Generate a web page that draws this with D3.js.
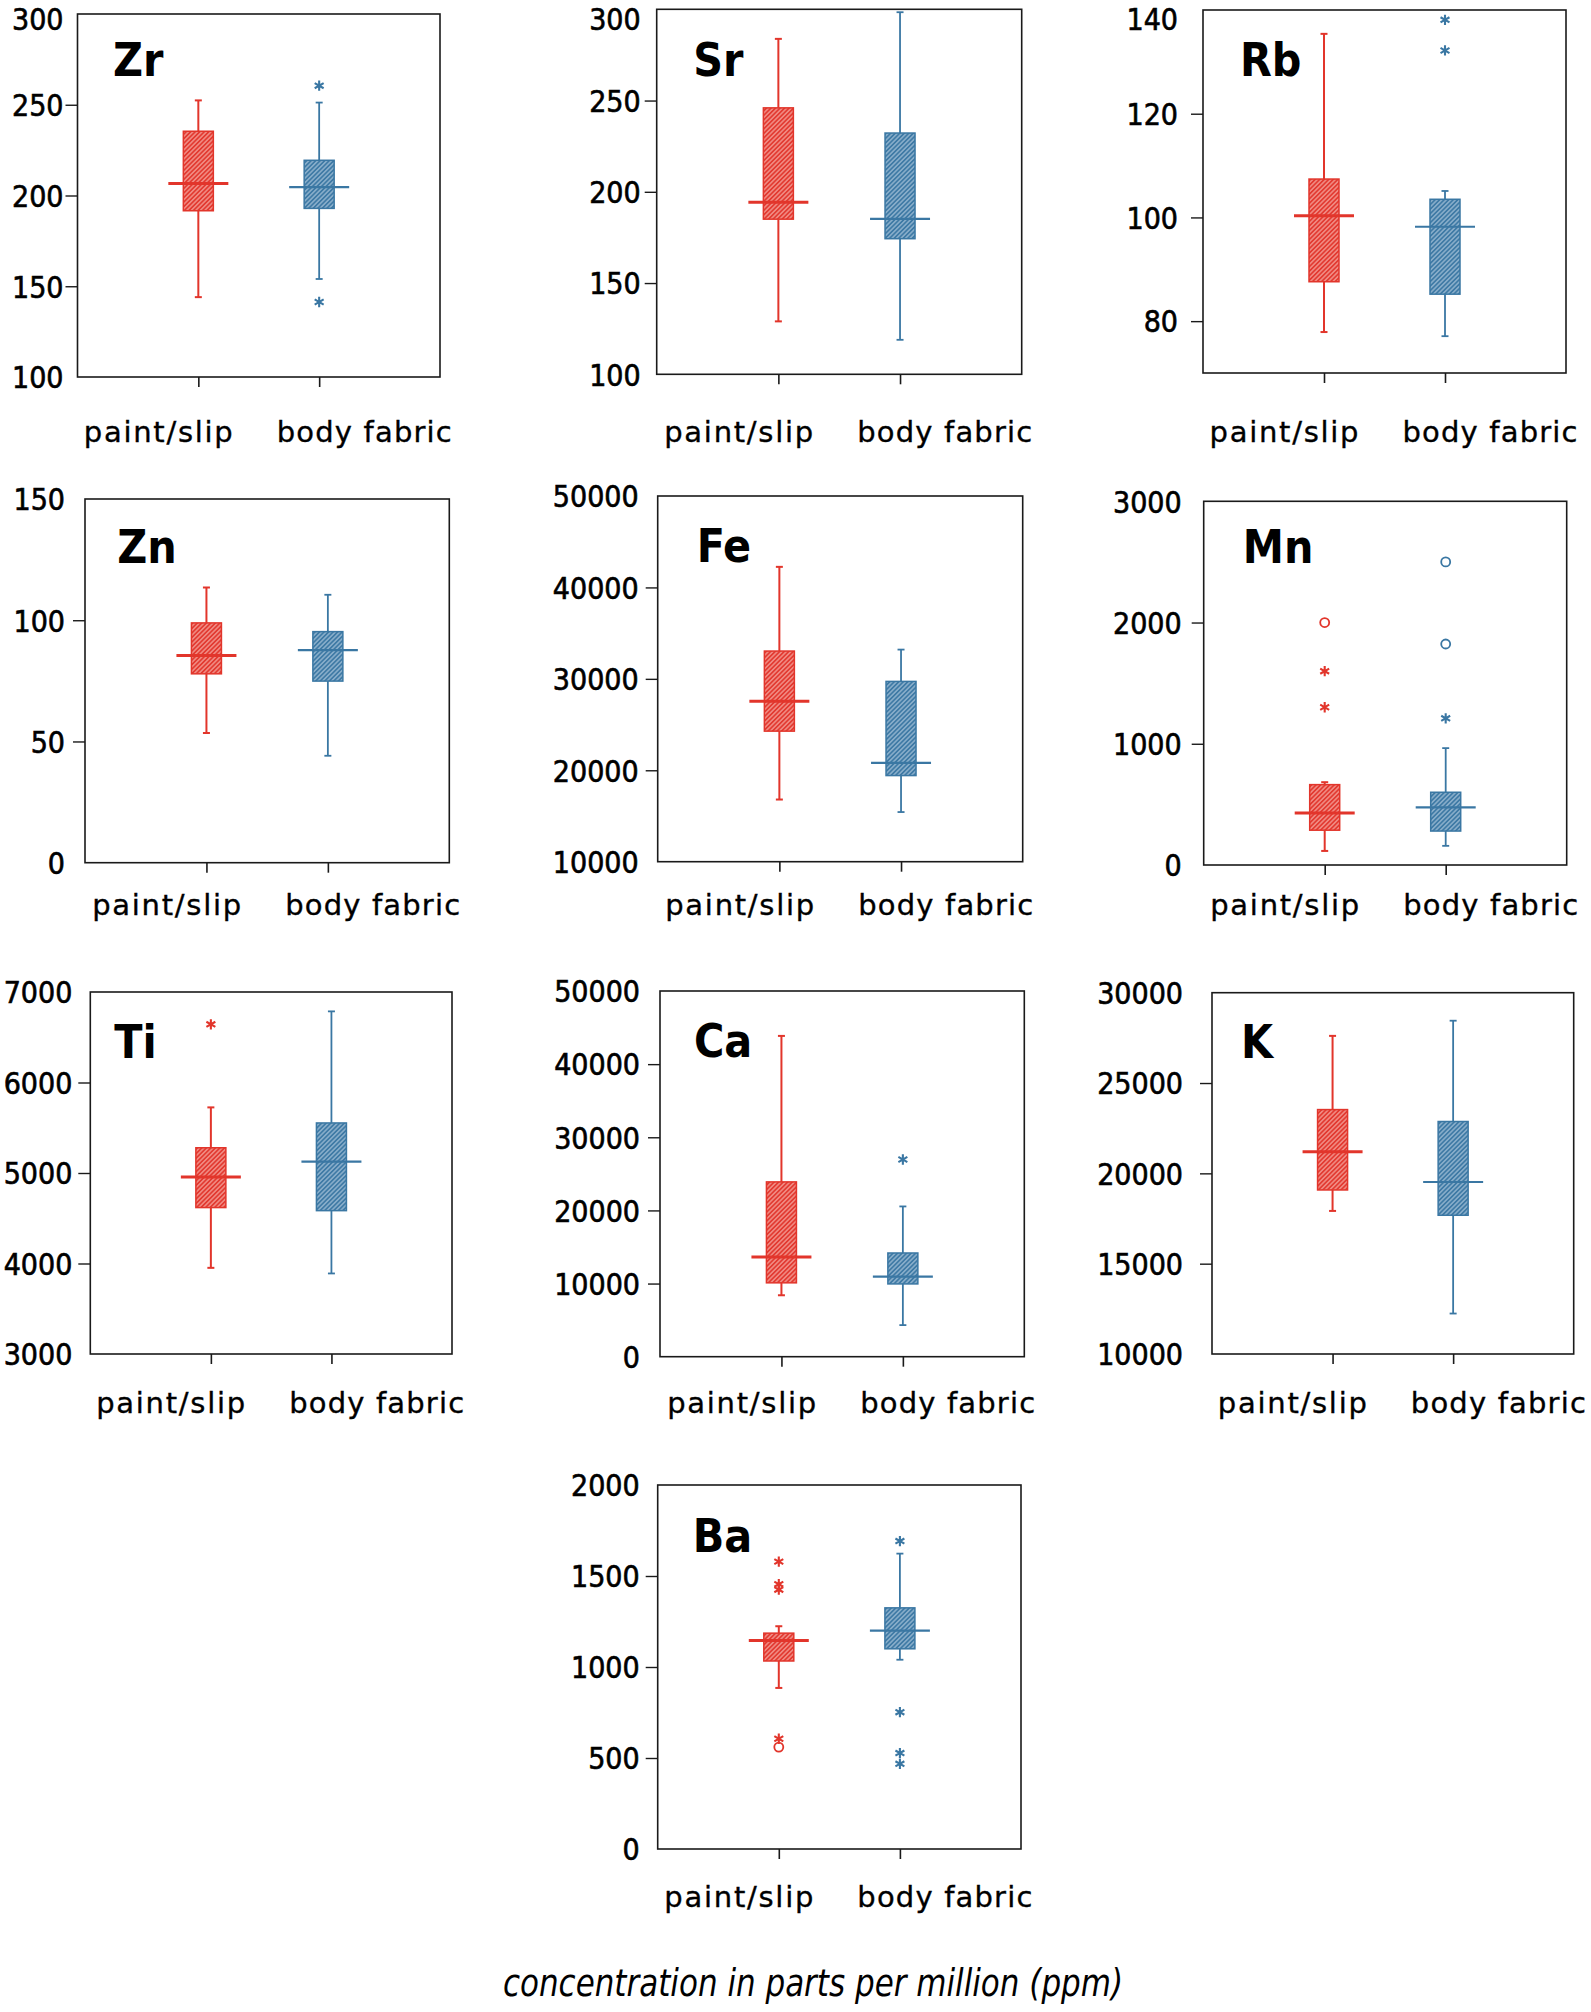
<!DOCTYPE html>
<html><head><meta charset="utf-8">
<script src="https://cdn.jsdelivr.net/npm/d3@7"></script>
<style>body{margin:0;background:#fff;} svg{display:block;}</style>
</head><body>
<svg id="chart" width="1591" height="2012"></svg>
<script>
// ---------------- data ----------------
const elements = ["Zr", "Sr", "Rb", "Zn", "Fe", "Mn", "Ti", "Ca", "K", "Ba"];
const categories = ["paint/slip", "body fabric"];

// [lower whisker, Q1, median, Q3, upper whisker]
const paintStats = [
  [144, 191.6, 206.6, 235.4, 252.4],
  [129, 185, 194.3, 246, 283.8],
  [77.9, 87.6, 100.3, 107.4, 135.4],
  [53.5, 77.9, 85.5, 98.9, 113.5],
  [16800, 24280, 27540, 33040, 42250],
  [116, 287, 428, 663, 683],
  [3952, 4618, 4956, 5279, 5725],
  [8400, 10100, 13640, 23900, 43860],
  [17920, 19080, 21190, 23530, 27610],
  [885, 1033, 1146, 1186, 1224]
];
const bodyStats = [
  [154, 192.9, 204.6, 219.4, 251.2],
  [118.9, 174.3, 185.2, 232.2, 298.4],
  [77.1, 85.2, 98.2, 103.5, 105.1],
  [44.1, 74.9, 87.7, 95.3, 110.5],
  [15430, 19420, 20800, 29720, 33200],
  [158, 280, 476, 600, 964],
  [3890, 4584, 5125, 5553, 6786],
  [4320, 9950, 10960, 14180, 20545],
  [12240, 17680, 19520, 22870, 28450],
  [1040, 1100, 1200, 1325, 1623]
];
// extreme values (*) and outliers (o)
const paintStars = [[], [], [], [], [], [1599, 1301], [6643], [], [], [1579, 1455, 1425, 606]];
const paintCircles = [[], [], [], [], [], [2000], [], [], [], [560]];
const bodyStars = [[260.5, 141.3], [], [138.1, 132.2], [], [], [1210], [], [26960], [], [1692, 752, 527, 468]];
const bodyCircles = [[], [], [], [], [], [2500, 1823], [], [], [], []];

const yDomains = [[100, 300], [100, 300], [70, 140], [0, 150], [10000, 50000],
                  [0, 3000], [3000, 7000], [0, 50000], [10000, 30000], [0, 2000]];
const yTicks = [
  [100, 150, 200, 250, 300],
  [100, 150, 200, 250, 300],
  [80, 100, 120, 140],
  [0, 50, 100, 150],
  [10000, 20000, 30000, 40000, 50000],
  [0, 1000, 2000, 3000],
  [3000, 4000, 5000, 6000, 7000],
  [0, 10000, 20000, 30000, 40000, 50000],
  [10000, 15000, 20000, 25000, 30000],
  [0, 500, 1000, 1500, 2000]
];
const captionText = "concentration in parts per million (ppm)";

// ---------------- layout ----------------
const frames = [
  {x: 77.5, y: 14, x2: 440, y2: 377, gap: 14, ly: 441.7, ex: 113, ey: 76},
  {x: 656.7, y: 9.3, x2: 1021.7, y2: 374.3, gap: 16, ly: 441.7, ex: 693.3, ey: 76},
  {x: 1203, y: 10, x2: 1566, y2: 373, gap: 25, ly: 441.7, ex: 1240, ey: 76},
  {x: 85, y: 499, x2: 449.3, y2: 862.7, gap: 20, ly: 915, ex: 117.3, ey: 562.7},
  {x: 657.7, y: 496, x2: 1022.7, y2: 861.7, gap: 19, ly: 915, ex: 696.7, ey: 561.7},
  {x: 1203.7, y: 501.3, x2: 1566.7, y2: 865, gap: 22, ly: 915, ex: 1242.7, ey: 563.3},
  {x: 90.3, y: 992, x2: 452, y2: 1354, gap: 18, ly: 1412.5, ex: 114.3, ey: 1058.3},
  {x: 660, y: 991, x2: 1024.3, y2: 1356.7, gap: 20, ly: 1412.5, ex: 694, ey: 1057.3},
  {x: 1212, y: 992.7, x2: 1573.7, y2: 1354, gap: 29, ly: 1412.5, ex: 1241, ey: 1058.3},
  {x: 657.7, y: 1485, x2: 1021, y2: 1849, gap: 18, ly: 1906.7, ex: 692.7, ey: 1551.7}
];
const colors = [
  {stroke: "#e2352b", light: "#f08880", whisker: 2, median: 3},
  {stroke: "#3a77a3", light: "#86acc9", whisker: 1.8, median: 2.2}
];
const tickFont = "'DejaVu Sans Condensed', 'DejaVu Sans', sans-serif";

const svg = d3.select("#chart");
const defs = svg.append("defs");
colors.forEach((c, i) => {
  const p = defs.append("pattern").attr("id", "hatch" + i)
    .attr("patternUnits", "userSpaceOnUse").attr("width", 3.2).attr("height", 3.2)
    .attr("patternTransform", "rotate(45)");
  p.append("rect").attr("width", 3.2).attr("height", 3.2).attr("fill", c.light);
  p.append("line").attr("x1", 0.8).attr("x2", 0.8).attr("y1", 0).attr("y2", 3.2)
    .attr("stroke", c.stroke).attr("stroke-width", 1.5);
});

elements.forEach((el, i) => {
  const f = frames[i];
  const g = svg.append("g");
  const y = d3.scaleLinear().domain(yDomains[i]).range([f.y2, f.y]);
  const x = d3.scalePoint().domain(categories).range([f.x, f.x2]).padding(1);
  const dom = yDomains[i];

  // y axis
  const ya = g.append("g").attr("transform", `translate(${f.x},0)`)
    .call(d3.axisLeft(y).tickValues(yTicks[i]).tickSize(12).tickPadding(f.gap - 12)
      .tickFormat(d3.format("d")));
  ya.select(".domain").remove();
  ya.selectAll(".tick line").attr("stroke", "#1a1a1a").attr("stroke-width", 1.4)
    .attr("display", d => (d === dom[0] || d === dom[1]) ? "none" : null);
  ya.selectAll(".tick text").attr("font-family", tickFont).attr("font-size", 30)
    .attr("font-stretch", "condensed").attr("fill", "#000")
    .attr("stroke", "#000").attr("stroke-width", 0.6)
    .attr("dy", d => {
      const py = y(d);
      const shift = py < 19 ? 19 - py : 0;
      return (10.8 + shift) + "px";
    });

  // x axis ticks
  const xa = g.append("g").attr("transform", `translate(0,${f.y2})`)
    .call(d3.axisBottom(x).tickSize(10).tickFormat(""));
  xa.select(".domain").remove();
  xa.selectAll(".tick line").attr("stroke", "#1a1a1a").attr("stroke-width", 1.6);

  // category labels
  const cx = (f.x + f.x2) / 2;
  const labelStyle = t => t.attr("font-family", "'DejaVu Sans', sans-serif").attr("font-size", 29)
    .attr("fill", "#000").attr("stroke", "#000").attr("stroke-width", 0.35)
    .attr("lengthAdjust", "spacing");
  g.append("text").attr("x", cx - 26).attr("y", f.ly).attr("text-anchor", "end")
    .call(labelStyle).attr("textLength", 149).text(categories[0]);
  g.append("text").attr("x", cx + 18).attr("y", f.ly).attr("text-anchor", "start")
    .call(labelStyle).attr("textLength", 175).text(categories[1]);

  // frame
  g.append("rect").attr("x", f.x).attr("y", f.y).attr("width", f.x2 - f.x).attr("height", f.y2 - f.y)
    .attr("fill", "none").attr("stroke", "#1a1a1a").attr("stroke-width", 1.6);

  // element label
  g.append("text").attr("x", f.ex).attr("y", f.ey)
    .attr("font-family", tickFont).attr("font-stretch", "condensed").attr("font-weight", "bold")
    .attr("font-size", 46).attr("fill", "#000").text(el);

  // boxes
  const statsList = [paintStats[i], bodyStats[i]];
  const starList = [paintStars[i], bodyStars[i]];
  const circleList = [paintCircles[i], bodyCircles[i]];
  categories.forEach((cat, k) => {
    const s = statsList[k], c = colors[k], px = x(cat);
    const bg = g.append("g").attr("stroke", c.stroke).attr("fill", "none");
    bg.append("line").attr("x1", px).attr("x2", px).attr("y1", y(s[0])).attr("y2", y(s[1]))
      .attr("stroke-width", c.whisker);
    bg.append("line").attr("x1", px).attr("x2", px).attr("y1", y(s[3])).attr("y2", y(s[4]))
      .attr("stroke-width", c.whisker);
    [s[0], s[4]].forEach(v => bg.append("line").attr("x1", px - 3.5).attr("x2", px + 3.5)
      .attr("y1", y(v)).attr("y2", y(v)).attr("stroke-width", c.whisker));
    bg.append("rect").attr("x", px - 15).attr("width", 30)
      .attr("y", y(s[3])).attr("height", y(s[1]) - y(s[3]))
      .attr("fill", `url(#hatch${k})`).attr("stroke-width", 1.5);
    bg.append("line").attr("x1", px - 30).attr("x2", px + 30)
      .attr("y1", y(s[2])).attr("y2", y(s[2])).attr("stroke-width", c.median);
    starList[k].forEach(v => bg.append("path")
      .attr("d", d3.symbol().type(d3.symbolAsterisk).size(75)())
      .attr("transform", `translate(${px},${y(v)})`).attr("stroke-width", 2.1));
    circleList[k].forEach(v => bg.append("circle").attr("cx", px).attr("cy", y(v))
      .attr("r", 4.5).attr("stroke-width", 1.8));
  });
});

svg.append("text").attr("x", 813).attr("y", 1996).attr("text-anchor", "middle")
  .attr("font-family", tickFont).attr("font-stretch", "condensed").attr("font-style", "italic")
  .attr("font-size", 37).attr("textLength", 620).attr("lengthAdjust", "spacingAndGlyphs")
  .text(captionText);
</script>
</body></html>
